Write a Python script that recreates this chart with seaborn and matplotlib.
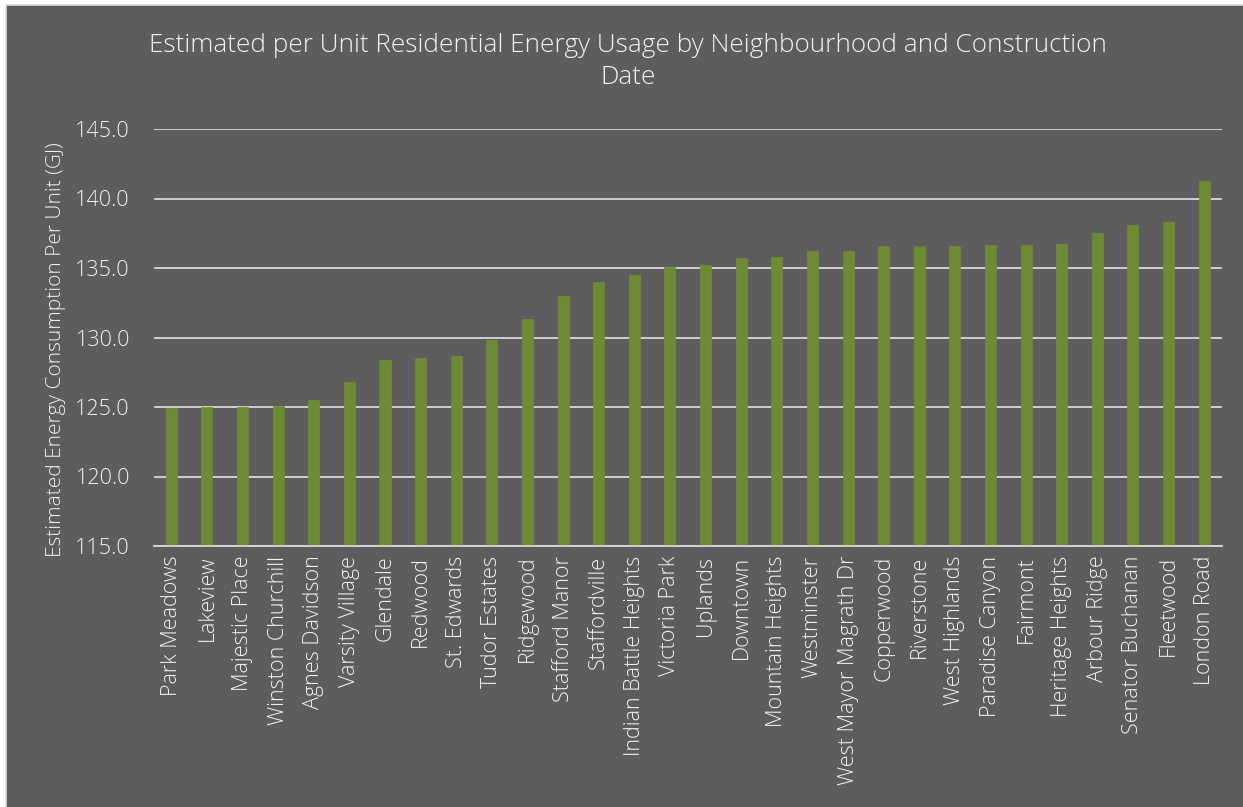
import matplotlib
matplotlib.use("Agg")
import matplotlib.pyplot as plt
from matplotlib.patches import Rectangle
import seaborn as sns
import pandas as pd

neighbourhoods = [
    "Park Meadows", "Lakeview", "Majestic Place", "Winston Churchill",
    "Agnes Davidson", "Varsity Village", "Glendale", "Redwood", "St. Edwards",
    "Tudor Estates", "Ridgewood", "Stafford Manor", "Staffordville",
    "Indian Battle Heights", "Victoria Park", "Uplands", "Downtown",
    "Mountain Heights", "Westminster", "West Mayor Magrath Dr", "Copperwood",
    "Riverstone", "West Highlands", "Paradise Canyon", "Fairmont",
    "Heritage Heights", "Arbour Ridge", "Senator Buchanan", "Fleetwood",
    "London Road",
]
energy_gj = [
    124.9, 125.0, 125.0, 125.1, 125.5, 126.8, 128.4, 128.5, 128.7,
    129.8, 131.3, 133.0, 134.0, 134.5, 135.05, 135.2, 135.7,
    135.8, 136.2, 136.25, 136.6, 136.6, 136.6, 136.65, 136.65,
    136.7, 137.5, 138.1, 138.3, 141.25,
]
y_ticks = [115.0, 120.0, 125.0, 130.0, 135.0, 140.0, 145.0]

BG = "#5d5d5d"
FG = "#f2f2f2"
GRID = "#d9d9d9"
BAR = "#6e8b34"

sns.set_theme(style="dark")
plt.rcParams["font.family"] = ["Open Sans", "DejaVu Sans"]

df = pd.DataFrame({"Neighbourhood": neighbourhoods, "Energy": energy_gj})

W, H = 1243, 807
fig = plt.figure(figsize=(W / 100, H / 100), dpi=100, facecolor="white")
# chart area panel with a thin light frame
fig.patches.append(Rectangle((6 / W, -0.01), 1.0, 1 - 5 / H + 0.01,
                             transform=fig.transFigure, facecolor=BG,
                             edgecolor=GRID, linewidth=1.2, zorder=-10))

ax = fig.add_axes([153.5 / W, 1 - 546 / H, (1222 - 153.5) / W, (546 - 129) / H])
ax.set_facecolor("none")
ax.set_zorder(1)

sns.barplot(data=df, x="Neighbourhood", y="Energy", color=BAR,
            width=0.31, saturation=1, edgecolor=BAR, linewidth=0.5, ax=ax)

ax.set_ylim(115, 145)
ax.set_xlim(-0.5, len(neighbourhoods) - 0.5)
ax.set_yticks(y_ticks)
ax.set_yticklabels([f"{v:.1f}" for v in y_ticks])
ax.yaxis.grid(True, color=GRID, linewidth=1.3)
ax.xaxis.grid(False)
ax.set_axisbelow(True)
for s in ["top", "right", "left"]:
    ax.spines[s].set_visible(False)
ax.spines["bottom"].set_color(GRID)
ax.spines["bottom"].set_linewidth(1.3)

ax.tick_params(axis="y", colors=FG, labelsize=15.5, length=0, pad=17)
ax.tick_params(axis="x", colors=FG, labelsize=15.5, length=0, pad=7)
for lbl in ax.get_xticklabels():
    lbl.set_rotation(90)
for lbl in ax.get_xticklabels() + ax.get_yticklabels():
    lbl.set_color(FG)
    lbl.set_fontweight("light")

ax.set_xlabel("")
ax.set_ylabel("Estimated Energy Consumption Per Unit (GJ)", color=FG,
              fontsize=15, fontweight="light")
ax.yaxis.set_label_coords(-0.082, 0.47)

fig.text(628 / W, 1 - 33 / H,
         "Estimated per Unit Residential Energy Usage by Neighbourhood and Construction\nDate",
         ha="center", va="top", color=FG, fontsize=18.8, fontweight="light",
         linespacing=1.35)

fig.savefig("out.png", dpi=100, facecolor="white")
